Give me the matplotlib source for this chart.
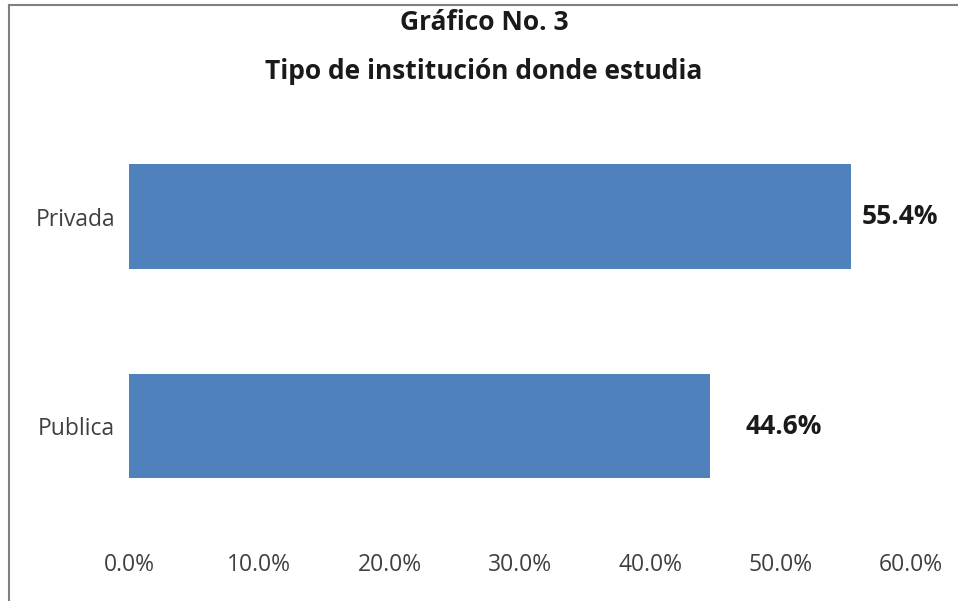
import matplotlib.pyplot as plt

categorias = ['Publica', 'Privada']
porcentajes = [44.6, 55.4]
etiquetas = ['44.6%', '55.4%']
ticks = [0, 10, 20, 30, 40, 50, 60]
tick_labels = ['0.0%', '10.0%', '20.0%', '30.0%', '40.0%', '50.0%', '60.0%']
titulo = 'Gráfico No. 3\nTipo de institución donde estudia'

plt.rcParams['font.family'] = ['Open Sans', 'DejaVu Sans']

fig = plt.figure(figsize=(9.58, 6.01), dpi=100)
W, H = 958, 601
ax = fig.add_axes([129 / W, 1 - 530.75 / H, (911 - 129) / W, (530.75 - 111.75) / H])

ax.barh(range(len(categorias)), porcentajes, height=0.5, color='#4F81BD', edgecolor='none')
ax.set_xlim(0, 60)
ax.set_ylim(-0.5, len(categorias) - 0.5)
ax.set_yticks(range(len(categorias)))
ax.set_yticklabels(categorias)
ax.set_xticks(ticks)
ax.set_xticklabels(tick_labels)
ax.tick_params(axis='both', length=0, labelsize=16.5, colors='#404040')
ax.tick_params(axis='x', pad=16)
ax.tick_params(axis='y', pad=10)
for s in ax.spines.values():
    s.set_visible(False)

# value labels (excel put them at slightly different offsets)
offsets = [25, 8]
for i, (v, t) in enumerate(zip(porcentajes, etiquetas)):
    ax.annotate(t, (v, i), xytext=(offsets[i], 0), textcoords='offset points',
                va='center', ha='left', fontsize=19, fontweight='bold', color='#1a1a1a')

fig.text(484 / W, 1 - 47 / H, titulo, ha='center', va='center', fontsize=19,
         fontweight='bold', color='#1a1a1a', linespacing=2.05)

# chart border (top and left visible)
fig.add_artist(plt.Line2D([8.5 / W, 8.5 / W], [0, 1 - 4.5 / H], transform=fig.transFigure,
                          color='#808080', lw=1.5))
fig.add_artist(plt.Line2D([8.5 / W, 1], [1 - 4.5 / H, 1 - 4.5 / H], transform=fig.transFigure,
                          color='#808080', lw=1.5))

fig.savefig('out.png', dpi=100)
